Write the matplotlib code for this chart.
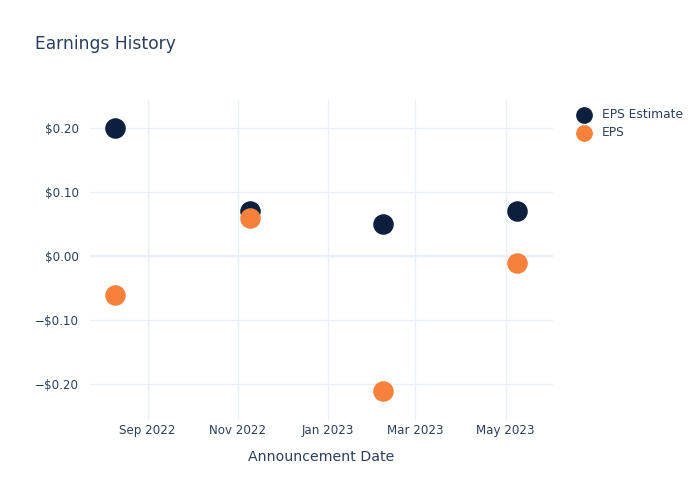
import matplotlib
matplotlib.use("Agg")
import matplotlib.pyplot as plt
import matplotlib.dates as mdates
from matplotlib.ticker import FuncFormatter
import pandas as pd

# announcement dates and earnings values
dates = pd.to_datetime(["2022-08-10", "2022-11-09", "2023-02-07", "2023-05-09"])
eps_estimate = [0.20, 0.07, 0.05, 0.07]
eps_actual = [-0.06, 0.06, -0.21, -0.01]

TEXT = "#2a3f5f"
GRID = "#ebf0f8"
NAVY = "#0c1f3f"
ORANGE = "#f7813a"


def money(v, pos):
    s = f"${abs(v):.2f}"
    return ("\u2212" + s) if v < -1e-9 else s


fig = plt.figure(figsize=(7, 5), dpi=100)
ax = fig.add_axes([90 / 700, 1 - 420 / 500, 463 / 700, 320 / 500])

ax.scatter(dates, eps_estimate, s=190, color=NAVY, label="EPS Estimate", zorder=3)
ax.scatter(dates, eps_actual, s=190, color=ORANGE, label="EPS", zorder=3)

ax.set_xlim(pd.Timestamp("2022-07-24"), pd.Timestamp("2023-06-02"))
ax.set_ylim(-0.256, 0.244)
ax.set_yticks([-0.2, -0.1, 0, 0.1, 0.2])
ax.yaxis.set_major_formatter(FuncFormatter(money))
ax.xaxis.set_major_locator(mdates.MonthLocator(bymonth=[1, 3, 5, 9, 11]))
ax.xaxis.set_major_formatter(mdates.DateFormatter("%b %Y"))

ax.grid(True, color=GRID, linewidth=1, zorder=0)
ax.axhline(0, color=GRID, linewidth=1.6, zorder=1)
for sp in ax.spines.values():
    sp.set_visible(False)
ax.tick_params(length=0, colors=TEXT, labelsize=8.6)
ax.tick_params(axis="x", pad=3)
ax.tick_params(axis="y", pad=8)

ax.set_xlabel("Announcement Date", color=TEXT, fontsize=10.2, labelpad=9)
fig.text(35 / 700, 1 - 44 / 500, "Earnings History", color=TEXT, fontsize=12.3, va="center")

leg = ax.legend(loc="upper left", bbox_to_anchor=(1.016, 1.01), frameon=False,
                fontsize=8.8, labelcolor=TEXT, handletextpad=0.5, labelspacing=0.45,
                markerscale=0.8)

fig.savefig("out.png", dpi=100)
